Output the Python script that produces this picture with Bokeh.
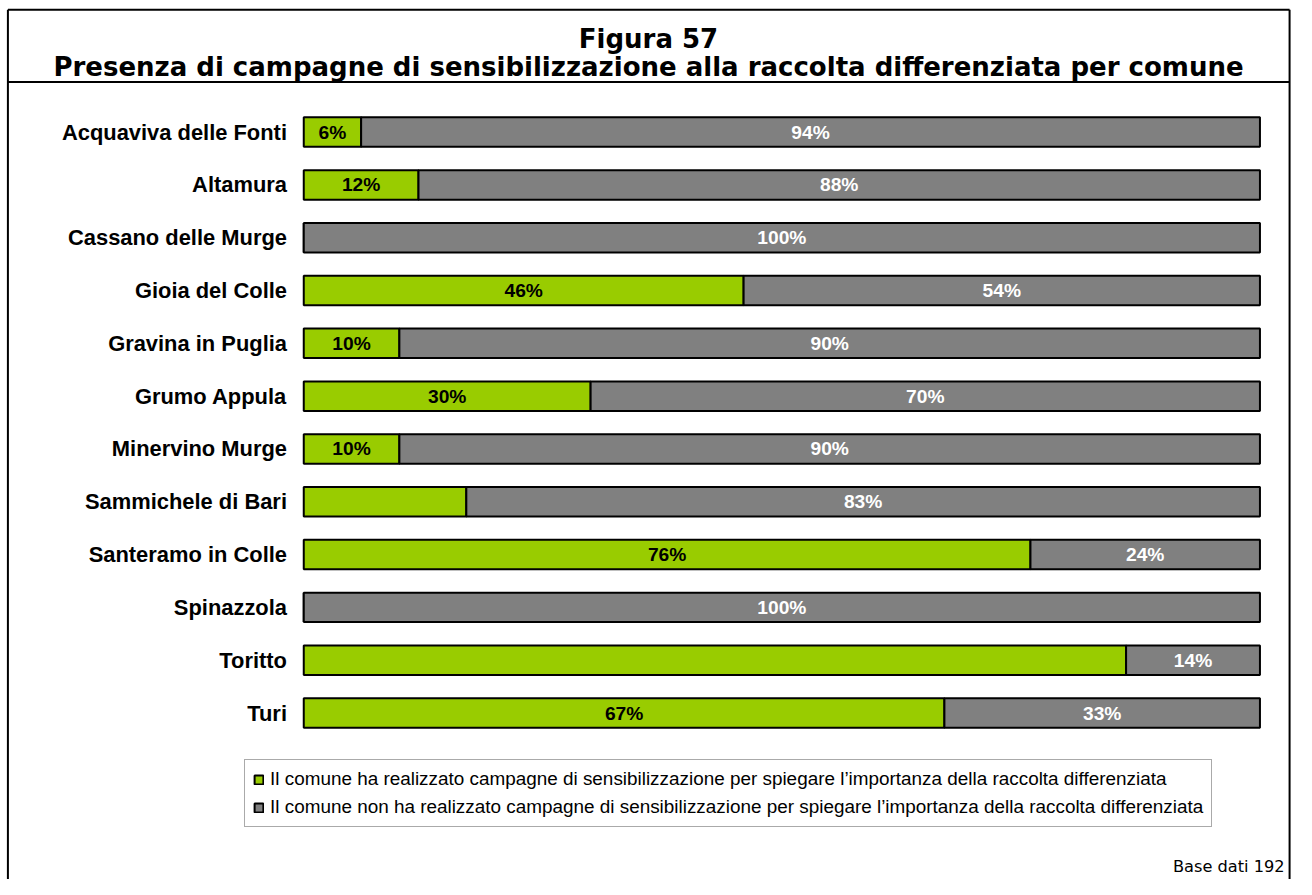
from bokeh.plotting import figure
from bokeh.models import Range1d, Label, Legend, LegendItem, ColumnDataSource
from bokeh.core.properties import value
from bokeh.embed import file_html
from bokeh.resources import INLINE

# ---------------- data ----------------
comuni = ["Acquaviva delle Fonti", "Altamura", "Cassano delle Murge", "Gioia del Colle",
          "Gravina in Puglia", "Grumo Appula", "Minervino Murge", "Sammichele di Bari",
          "Santeramo in Colle", "Spinazzola", "Toritto", "Turi"]
si_pct = [6, 12, 0, 46, 10, 30, 10, 17, 76, 0, 86, 67]
no_pct = [94, 88, 100, 54, 90, 70, 90, 83, 24, 100, 14, 33]
si_lbl = ["6%", "12%", "", "46%", "10%", "30%", "10%", "", "76%", "", "", "67%"]
no_lbl = ["94%", "88%", "100%", "54%", "90%", "70%", "90%", "83%", "24%", "100%", "14%", "33%"]
serie = ["Il comune ha realizzato campagne di sensibilizzazione per spiegare l\u2019importanza della raccolta differenziata",
         "Il comune non ha realizzato campagne di sensibilizzazione per spiegare l\u2019importanza della raccolta differenziata"]
titolo1 = "Figura 57"
titolo2 = "Presenza di campagne di sensibilizzazione alla raccolta differenziata per comune"
nota = "Base dati 192"

GREEN = "#99CC00"
GREY = "#808080"

# ---------------- layout ----------------
W, H = 1296, 879            # canvas
RW, RH = 1312.0, 895.0      # design space (scaled onto the canvas)
SX, SY = W / RW, H / RH
X0, XS = 307.0, 9.68        # design pixel of 0 %, design pixels per %
Y0, YS = 134.0, 53.77       # design pixel of first row centre, pixels per row


def xd(px):
    return (px - X0) / XS


def yd(py):
    return (py - Y0) / YS


def fs(px):
    return "%.1fpx" % (px * SY)


p = figure(width=W, height=H, output_backend="svg", toolbar_location=None,
           x_range=Range1d(xd(0), xd(RW)), y_range=Range1d(yd(RH), yd(0)),
           x_axis_location=None, y_axis_location=None,
           min_border=0, min_border_left=0, min_border_right=0,
           min_border_top=0, min_border_bottom=0)
p.outline_line_color = None
p.grid.visible = False
p.background_fill_color = "white"
p.border_fill_color = "white"

rows = list(range(len(comuni)))
src = ColumnDataSource(dict(
    y=rows, si=si_pct,
    no_l=list(si_pct), no_r=[s + n for s, n in zip(si_pct, no_pct)],
    si_x=[s / 2 for s in si_pct], no_x=[s + n / 2 for s, n in zip(si_pct, no_pct)],
    si_lbl=si_lbl, no_lbl=no_lbl, name=comuni,
    name_x=[xd(290)] * len(comuni),
))

BAR_H = 30 / YS
r_si = p.hbar(y="y", left=0, right="si", height=BAR_H, source=src,
              fill_color=GREEN, line_color="black", line_width=2)
r_no = p.hbar(y="y", left="no_l", right="no_r", height=BAR_H, source=src,
              fill_color=GREY, line_color="black", line_width=2)

p.text(x="si_x", y="y", text="si_lbl", source=src, text_align="center", text_baseline="middle",
       text_font=value("Liberation Sans"), text_font_style="bold", text_font_size=fs(19.5),
       text_color="black")
p.text(x="no_x", y="y", text="no_lbl", source=src, text_align="center", text_baseline="middle",
       text_font=value("Liberation Sans"), text_font_style="bold", text_font_size=fs(19.5),
       text_color="white")
p.text(x="name_x", y="y", text="name", source=src, text_align="right", text_baseline="middle",
       text_font=value("Liberation Sans"), text_font_style="bold", text_font_size=fs(22.3),
       text_color="black")

# frame lines (left, right, top, title separator)
BL, BR, BT, SEP = 7.5, 1305.0, 9.5, 83.0
p.segment(x0=[xd(BL), xd(BR), xd(BL), xd(BL)], y0=[yd(BT), yd(BT), yd(BT), yd(SEP)],
          x1=[xd(BL), xd(BR), xd(BR), xd(BR)], y1=[yd(RH + 5), yd(RH + 5), yd(BT), yd(SEP)],
          line_color="black", line_width=2)

# titles
p.add_layout(Label(x=xd(656), y=yd(39), text=titolo1, text_align="center",
                   text_baseline="alphabetic", text_font="DejaVu Sans",
                   text_font_style="bold", text_font_size=fs(26.5), text_color="black"))
p.add_layout(Label(x=xd(656), y=yd(68), text=titolo2, text_align="center",
                   text_baseline="alphabetic", text_font="DejaVu Sans",
                   text_font_style="bold", text_font_size=fs(26.5), text_color="black"))
p.add_layout(Label(x=xd(1300), y=yd(882), text=nota, text_align="right",
                   text_baseline="alphabetic", text_font="DejaVu Sans",
                   text_font_size=fs(16.5), text_color="black"))

legend = Legend(items=[LegendItem(label=serie[0], renderers=[r_si]),
                       LegendItem(label=serie[1], renderers=[r_no])],
                location=(int(248 * SX), int((RH - 842) * SY)), orientation="vertical",
                label_text_font="Liberation Sans", label_text_font_size=fs(19.2),
                label_text_color="black", glyph_width=11, glyph_height=11,
                label_standoff=6, spacing=6, padding=8, margin=0,
                border_line_color="#555555", border_line_width=1,
                background_fill_color="white", background_fill_alpha=1.0)
p.add_layout(legend)

open("out.html", "w").write(file_html(p, INLINE))
